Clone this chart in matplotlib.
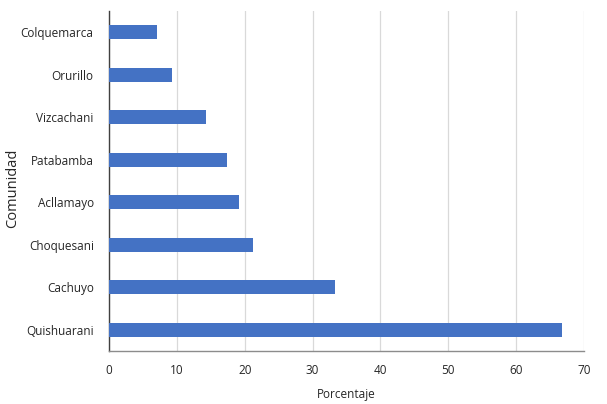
import matplotlib.pyplot as plt

comunidades = ["Quishuarani", "Cachuyo", "Choquesani", "Acllamayo",
               "Patabamba", "Vizcachani", "Orurillo", "Colquemarca"]
porcentajes = [66.7, 33.3, 21.2, 19.2, 17.4, 14.3, 9.3, 7.1]
xticks = [0, 10, 20, 30, 40, 50, 60, 70]

plt.rcParams['font.family'] = ['Open Sans', 'DejaVu Sans']

fig = plt.figure(figsize=(6.07, 4.04), dpi=100)
ax = fig.add_axes([0.1796, 0.131, 0.7824, 0.8425])

ax.barh(comunidades, porcentajes, height=0.33, color="#4472C4", zorder=3)

ax.set_xlim(0, 70)
ax.set_ylim(-0.5, len(comunidades) - 0.5)
ax.set_xticks(xticks)
ax.grid(axis="x", color="#d9d9d9", linewidth=0.9, zorder=0)

for s in ["top", "right"]:
    ax.spines[s].set_visible(False)
ax.spines["left"].set_color("#404040")
ax.spines["bottom"].set_color("#8c8c8c")
ax.spines["left"].set_linewidth(1.0)
ax.spines["bottom"].set_linewidth(1.0)

ax.tick_params(axis="both", length=0, labelsize=8.5, colors="#262626")
ax.tick_params(axis="y", pad=11)
ax.tick_params(axis="x", pad=9)

ax.set_xlabel("Porcentaje", fontsize=8.5, color="#262626", labelpad=8)
# y label placed in figure coords so it stays inside the image
fig.text(13 / 607, 1 - 188 / 404, "Comunidad", rotation=90, fontsize=10.5,
         color="#262626", ha="center", va="center")

fig.savefig("out.png", dpi=100, facecolor="white")
